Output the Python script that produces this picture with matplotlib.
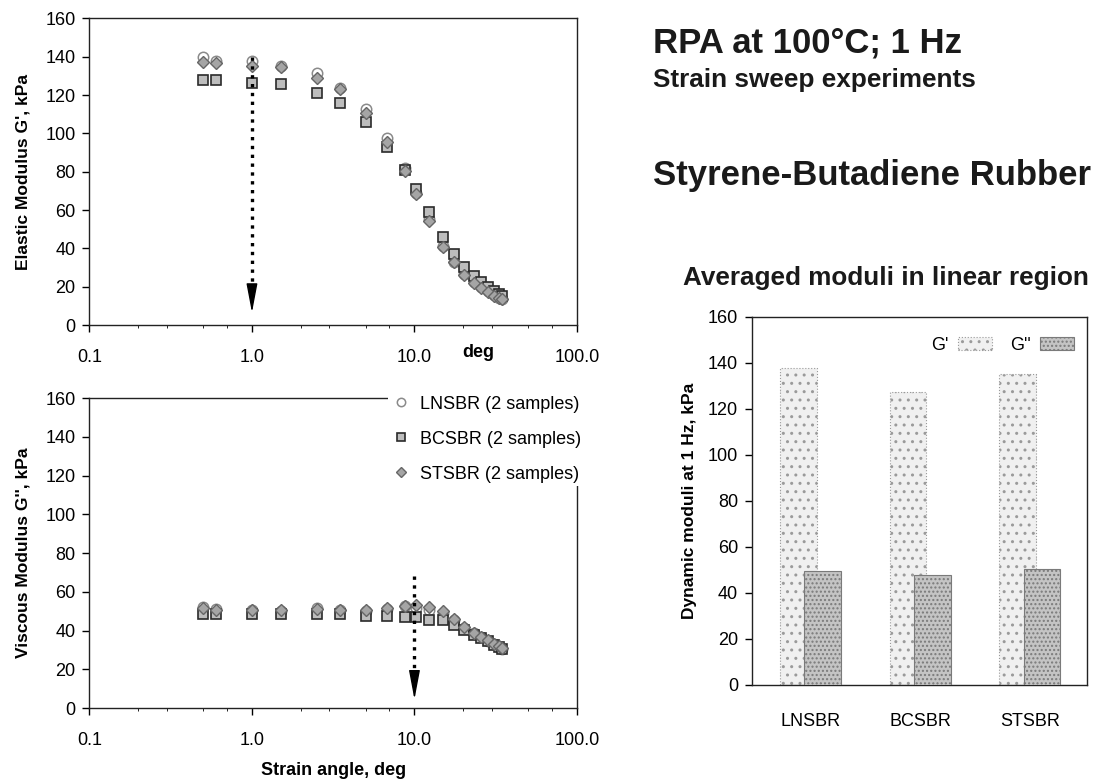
import numpy as np
import matplotlib
matplotlib.use("Agg")
import matplotlib.pyplot as plt
from matplotlib.ticker import LogLocator, NullFormatter

plt.rcParams['font.family'] = ['Liberation Sans', 'DejaVu Sans']

# strain sweep (deg) and moduli (kPa)
strain = [0.5, 0.6, 1.0, 1.5, 2.5, 3.5, 5.0, 6.8, 8.7, 10.2,
          12.3, 14.9, 17.4, 20.3, 23.2, 25.7, 28.3, 31.0, 33.0, 34.8]

g1_lnsbr = [139.7, 137.7, 137.7, 135.1, 131.3, 123.7, 112.5, 97.4, 81.7, 68.7,
            55.1, 41.2, 33.0, 26.6, 22.6, 19.7, 17.7, 15.7, 14.3, 13.6]
g1_bcsbr = [127.8, 127.8, 126.4, 125.6, 120.9, 115.7, 105.7, 93.0, 80.9, 70.8,
            59.1, 46.1, 36.9, 30.4, 25.7, 22.6, 20.0, 17.7, 16.0, 15.1]
g1_stsbr = [137.0, 136.5, 135.1, 134.8, 129.0, 123.0, 110.4, 95.7, 80.5, 68.2,
            54.4, 40.5, 32.7, 26.1, 22.1, 19.1, 17.0, 15.1, 13.9, 13.4]

g2_lnsbr = [52.0, 51.0, 50.5, 50.0, 51.5, 50.5, 50.0, 51.0, 52.5, 51.5,
            50.5, 49.0, 45.5, 41.5, 38.5, 36.5, 34.5, 33.0, 31.5, 30.5]
g2_bcsbr = [48.5, 48.5, 48.5, 48.3, 48.5, 48.5, 47.3, 47.3, 47.0, 47.0,
            45.2, 45.2, 43.0, 40.1, 37.8, 36.1, 34.4, 32.7, 31.5, 30.4]
g2_stsbr = [51.6, 50.8, 50.8, 50.4, 51.1, 50.8, 50.8, 51.6, 52.5, 53.3,
            52.0, 49.9, 45.9, 41.8, 38.7, 36.6, 34.9, 33.2, 31.8, 31.0]

samples = ['LNSBR', 'BCSBR', 'STSBR']
legend_labels = ['LNSBR (2 samples)', 'BCSBR (2 samples)', 'STSBR (2 samples)']
avg_g1 = [138.0, 127.5, 135.0]
avg_g2 = [49.5, 48.0, 50.5]

x_ticks = [0.1, 1, 10, 100]
x_ticklabels = ['0.1', '1.0', '10.0', '100.0']

styles = [
    dict(marker='o', ms=7.5, mfc='white', mec='#8a8a8a', mew=1.1, ls='none', zorder=3),
    dict(marker='s', ms=7.2, mfc='#bdbdbd', mec='#2a2a2a', mew=1.2, ls='none', zorder=4),
    dict(marker='D', ms=5.8, mfc='#a5a5a5', mec='#666666', mew=1.0, ls='none', zorder=5),
]
arrow_head = dict(arrowstyle='-|>,head_length=0.9,head_width=0.17', color='black',
                  lw=1, mutation_scale=20)

fig = plt.figure(figsize=(10.95, 7.8), dpi=100)
ax1 = fig.add_axes([0.0817, 0.5833, 0.4452, 0.3932])
ax2 = fig.add_axes([0.0817, 0.0923, 0.4452, 0.3974])
ax3 = fig.add_axes([0.6868, 0.1218, 0.3059, 0.4718])


def style_log(ax):
    ax.set_xscale('log')
    ax.set_xlim(0.1, 100)
    ax.set_ylim(0, 160)
    ax.set_xticks(x_ticks)
    ax.set_xticklabels(x_ticklabels)
    ax.xaxis.set_minor_locator(LogLocator(base=10, subs=(2, 3, 5, 7)))
    ax.xaxis.set_minor_formatter(NullFormatter())
    ax.set_yticks(range(0, 161, 20))
    ax.tick_params(which='major', direction='out', length=5, width=1, labelsize=13)
    ax.tick_params(which='minor', direction='out', length=2, width=0.6)
    ax.tick_params(axis='x', which='major', pad=12)
    ax.tick_params(axis='y', pad=5)
    for s in ax.spines.values():
        s.set_linewidth(1.0)
        s.set_color('#222222')


# elastic modulus
for vals, st in zip([g1_lnsbr, g1_bcsbr, g1_stsbr], styles):
    ax1.plot(strain, vals, **st)
style_log(ax1)
ax1.set_ylabel("Elastic Modulus G', kPa", fontsize=12.5, fontweight='bold')
ax1.yaxis.set_label_coords(-0.12, 0.5)
ax1.text(24.6, -0.088, 'deg', transform=ax1.get_xaxis_transform(),
         ha='center', va='center', fontsize=13, fontweight='bold')
ax1.plot([1, 1], [140, 20], ls=':', lw=2.4, color='black', zorder=6)
ax1.annotate('', xy=(1, 5), xytext=(1, 21), arrowprops=arrow_head, zorder=6)

# viscous modulus
handles = []
for vals, st, lab in zip([g2_lnsbr, g2_bcsbr, g2_stsbr], styles, legend_labels):
    h, = ax2.plot(strain, vals, label=lab, **st)
    handles.append(h)
style_log(ax2)
ax2.set_ylabel("Viscous Modulus G'', kPa", fontsize=12.5, fontweight='bold')
ax2.yaxis.set_label_coords(-0.12, 0.5)
ax2.set_xlabel('Strain angle, deg', fontsize=13, fontweight='bold')
ax2.xaxis.set_label_coords(0.5, -0.174)
ax2.plot([10, 10], [68, 16], ls=':', lw=2.4, color='black', zorder=6)
ax2.annotate('', xy=(10, 3), xytext=(10, 18), arrowprops=arrow_head, zorder=6)
leg = ax2.legend(handles=handles, loc='upper left', bbox_to_anchor=(388 / 1095, 1 - 392 / 780),
                 bbox_transform=fig.transFigure, frameon=True, framealpha=1, edgecolor='none',
                 fontsize=13, handlelength=1.0, handletextpad=0.6, labelspacing=1.0,
                 borderpad=0.2, borderaxespad=0, markerscale=0.8, numpoints=1)
leg.get_frame().set_facecolor('white')

# averaged moduli bar chart
xpos = np.arange(len(samples))
ax3.bar(xpos - 0.11, avg_g1, 0.335, color='#f0f0f0', edgecolor='#9a9a9a', hatch='..',
        linestyle=':', linewidth=0.8, label="G'", zorder=2)
ax3.bar(xpos + 0.11, avg_g2, 0.335, color='#c4c4c4', edgecolor='#7a7a7a', hatch='....',
        linewidth=0.8, label="G''", zorder=3)
ax3.set_xlim(-0.53, 2.52)
ax3.set_ylim(0, 160)
ax3.set_yticks(range(0, 161, 20))
ax3.set_xticks(xpos)
ax3.set_xticklabels(samples)
ax3.tick_params(axis='y', direction='out', length=5, width=1, labelsize=13, pad=5)
ax3.tick_params(axis='x', length=0, pad=20, labelsize=13)
for s in ax3.spines.values():
    s.set_linewidth(1.0)
    s.set_color('#222222')
ax3.set_ylabel('Dynamic moduli at 1 Hz, kPa', fontsize=12.5, fontweight='bold')
ax3.yaxis.set_label_coords(-0.165, 0.5)
ax3.legend(loc='upper right', ncol=2, markerfirst=False, frameon=False, fontsize=13,
           handlelength=1.9, handleheight=0.7, columnspacing=1.0, handletextpad=0.5,
           bbox_to_anchor=(1.0, 0.98), borderaxespad=0.3)

# titles on the right
fig.text(653 / 1095, 1 - 52 / 780, 'RPA at 100°C; 1 Hz', fontsize=25, fontweight='bold',
         va='baseline', color='#1a1a1a')
fig.text(653 / 1095, 1 - 87 / 780, 'Strain sweep experiments', fontsize=18.8, fontweight='bold',
         va='baseline', color='#1a1a1a')
fig.text(653 / 1095, 1 - 185 / 780, 'Styrene-Butadiene Rubber', fontsize=25, fontweight='bold',
         va='baseline', color='#1a1a1a')
fig.text(683 / 1095, 1 - 285 / 780, 'Averaged moduli in linear region', fontsize=18.8,
         fontweight='bold', va='baseline', color='#1a1a1a')

fig.savefig('out.png', dpi=100)
